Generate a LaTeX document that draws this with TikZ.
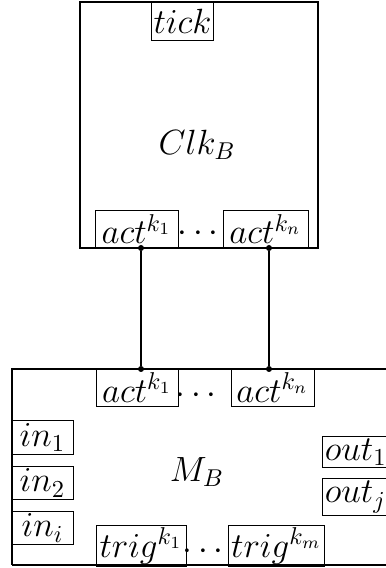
\documentclass[tikz,border=0pt]{standalone}
\usepackage{amsmath}
\usetikzlibrary{positioning}
\newdimen\pxu
\pxu=0.411pt

\begin{document}
\begin{tikzpicture}[x=\pxu,y=\pxu,
  font=\fontsize{13.8pt}{16pt}\selectfont,
  port/.style={draw,line width=0.4pt,inner sep=1pt,minimum height=#1\pxu},
  port/.default=31,
  blk/.style={draw,line width=0.5pt},
  joint/.style={circle,fill,inner sep=0pt,minimum size=6\pxu}]
\useasboundingbox (0,0) rectangle (385,568);
% clock block
\draw[blk] (80,320) rectangle (318,566);
\node[port=39,minimum width=61\pxu] (tick) at (182.5,546.5) {$tick$};
\node (clk) at (197,423) {$Clk_B$};
\node[port=38,minimum width=83\pxu] (ca1) at (136.5,339) {$act^{k_1}$};
\node[port=38,minimum width=85\pxu] (ca2) at (265.5,339) {$act^{k_n}$};
\node (cdots) at (201,334) {$\cdots$};
% machine block
\draw[blk] (12,3) -- (12,199) -- (390,199);
\draw[blk] (12,3) -- (390,3);
\node (mb) at (197,96) {$M_B$};
\node[port=37,minimum width=82\pxu] (ma1) at (137,180.5) {$act^{k_1}$};
\node[port=37,minimum width=83\pxu] (ma2) at (272.5,180.5) {$act^{k_n}$};
\node (mdots) at (199,172) {$\cdots$};
\node[port,minimum width=61\pxu] (in1) at (42.5,130.5) {$in_1$};
\node[port,minimum width=61\pxu] (in2) at (42.5,85) {$in_2$};
\node[port,minimum width=61\pxu] (ini) at (42.5,40) {$in_i$};
\node[port,minimum width=66\pxu,anchor=west] (out1) at (322,116) {$out_1$};
\node[port,minimum width=66\pxu,anchor=west] (outj) at (322,71) {$out_j$};
\node[port=38,minimum width=90\pxu] (trig1) at (141,22) {$trig^{k_1}$};
\node[port=38,minimum width=91\pxu] (trig2) at (276.5,22) {$trig^{k_m}$};
\node (tdots) at (206,16) {$\cdots$};
% links between the act ports
\coordinate (c1) at (141,320);
\coordinate (c2) at (269,320);
\coordinate (m1) at (141,199);
\coordinate (m2) at (269,199);
\foreach \p in {c1,c2,m1,m2} \node[joint] (j\p) at (\p) {};
\draw[line width=0.45pt] (jc1) -- (jm1);
\draw[line width=0.45pt] (jc2) -- (jm2);
\end{tikzpicture}
\end{document}
